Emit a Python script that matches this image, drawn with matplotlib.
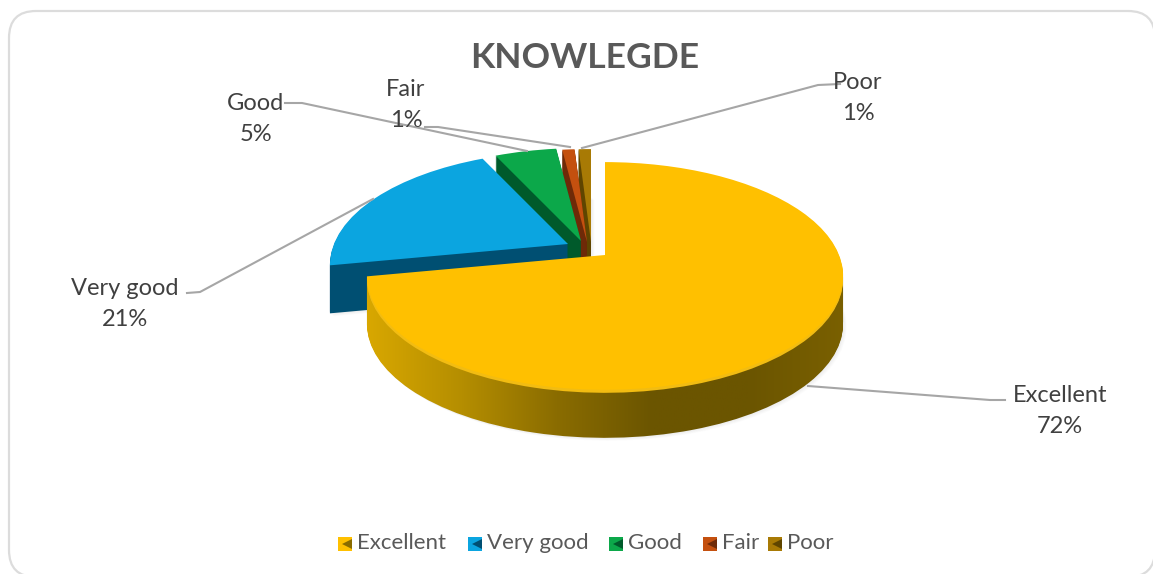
import numpy as np
import matplotlib
matplotlib.use('Agg')
import matplotlib.pyplot as plt
from matplotlib.colors import LinearSegmentedColormap
from matplotlib.patches import FancyBboxPatch
from matplotlib.transforms import Affine2D, Transform

categories = ['Excellent', 'Very good', 'Good', 'Fair', 'Poor']
values = [72, 21, 5, 1, 1]
top_colors = ['#FFC000', '#0BA5E0', '#0CA84A', '#C4500F', '#A87A05']
side_colors = ['#8A6C00', '#004F72', '#005A2B', '#6E2A08', '#5F4500']

# pixel shift of each pulled out slice
shifts = [(0, 0), (-37, -11), (-24, -14), (-18, -13), (-14, -13)]
depth = 48


class Tilt(Transform):
    # unit circle of the pie -> tilted disc on the page, with a bit of perspective
    input_dims = 2
    output_dims = 2
    is_affine = False

    def transform_non_affine(self, xy):
        xy = np.asarray(xy)
        w = 1 + 0.184 * xy[:, 1]
        return np.column_stack((605 + 234 * xy[:, 0] / w, 255 - 110 * xy[:, 1] / w))


fig = plt.figure(figsize=(11.53, 5.74), dpi=100)
ax = fig.add_axes([0, 0, 1, 1])
plt.rcParams['font.family'] = ['Lato', 'DejaVu Sans']

ax.add_patch(FancyBboxPatch((9, 11), 1146, 566, boxstyle='round,pad=0,rounding_size=27',
                            fc='white', ec='#DCDCDC', lw=1.6, zorder=0))

tilt = Tilt()
side_cmap = LinearSegmentedColormap.from_list(
    'side', ['#D9A800', '#B58E00', '#8A6C00', '#6B5500', '#6B5500', '#7A6000'])
gradient = np.linspace(0, 1, 256).reshape(1, -1)

# order 0 is drawn on top, slices go back to front
for d in range(depth + 6, -1, -1):
    wedges, _ = ax.pie(values, startangle=90, counterclock=False, radius=1,
                       wedgeprops=dict(linewidth=0))
    for i, w in enumerate(wedges):
        dx, dy = shifts[i]
        if d > depth:
            # soft shadow under the pie
            dx += (d - depth) * 0.6
        w.set_transform(tilt + Affine2D().translate(dx, dy + min(d, depth) + max(d - depth, 0) * 0.5)
                        + ax.transData)
        w.set_zorder(20 - 3 * i + (depth + 6 - d) / 100)
        if d > depth:
            w.set_facecolor('#000000')
            w.set_alpha(0.012)
        elif d == 0:
            w.set_facecolor(top_colors[i])
        elif i == 0 and d > 3:
            w.set_visible(False)
            im = ax.imshow(gradient, cmap=side_cmap, extent=(365, 845, 450, 150), aspect='auto',
                           zorder=w.get_zorder())
            im.set_clip_path(w)
        elif i == 0:
            w.set_facecolor('#F2BC12')
        else:
            w.set_facecolor(side_colors[i])

ax.text(585, 58, 'KNOWLEGDE', fontsize=25.5, fontweight='bold', color='#595959',
        ha='center', va='center', zorder=40)

# leader lines and data labels
leaders = [
    ([1005, 990, 808], [400, 400, 386]),
    ([187, 200, 373], [293, 292, 199]),
    ([285, 302, 527], [103, 103, 151]),
    ([425, 438, 570], [127, 127, 147]),
    ([840, 818, 582], [84, 85, 148]),
]
label_pos = [(1060, 411), (125, 304), (256, 119), (406, 105), (858, 98)]
for i, name in enumerate(categories):
    ax.plot(leaders[i][0], leaders[i][1], color='#A6A6A6', lw=1.5, zorder=30)
    ax.text(label_pos[i][0], label_pos[i][1], f'{name}\n{values[i]}%', fontsize=17, color='#404040',
            ha='center', va='center', linespacing=1.55, zorder=41)

# legend
legend_x = [345, 475, 616, 710, 775]
for i, name in enumerate(categories):
    ax.plot(legend_x[i], 544, marker='s', ms=10.5, color=top_colors[i], mew=0, zorder=40)
    ax.plot(legend_x[i] + 2, 544, marker='<', ms=6.5, color=side_colors[i], mew=0, zorder=41)
    ax.text(legend_x[i] + 12, 543, name, fontsize=16, color='#595959', va='center', zorder=40)

ax.set_aspect('auto')
ax.set_xlim(0, 1153)
ax.set_ylim(574, 0)
ax.axis('off')
fig.savefig('out.png', dpi=100, facecolor='white')
